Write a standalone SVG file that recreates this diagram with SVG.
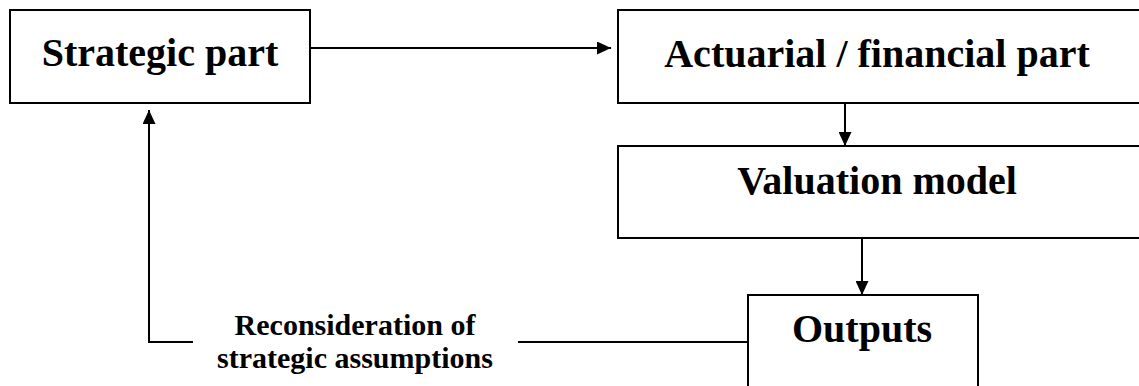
<svg xmlns="http://www.w3.org/2000/svg" width="1139" height="386" viewBox="0 0 1139 386">
  <style>
    .box { fill: #ffffff; stroke: #000000; stroke-width: 2; }
    .title { font-family: "Liberation Serif", "Times New Roman", serif; font-weight: bold; font-size: 40px; fill: #000000; text-anchor: middle; }
    .label { font-family: "Liberation Serif", "Times New Roman", serif; font-weight: bold; font-size: 30px; fill: #000000; text-anchor: middle; }
    .wire { fill: none; stroke: #000000; stroke-width: 2; }
  </style>
  <defs>
    <marker id="arrow" viewBox="0 0 14 13" refX="14" refY="6.5" markerWidth="14" markerHeight="13" markerUnits="userSpaceOnUse" orient="auto">
      <path d="M0,0 L14,6.5 L0,13 Z" fill="#000000"/>
    </marker>
  </defs>
  <rect width="1139" height="386" fill="#ffffff"/>

  <!-- boxes -->
  <g id="strategic-part">
    <rect class="box" x="10" y="10" width="300" height="93"/>
    <text class="title" x="160" y="66">Strategic part</text>
  </g>

  <g id="actuarial-financial-part">
    <rect class="box" x="618" y="10" width="540" height="93"/>
    <text class="title" x="877" y="67">Actuarial / financial part</text>
  </g>

  <g id="valuation-model">
    <rect class="box" x="618" y="146" width="540" height="92"/>
    <text class="title" x="877" y="194">Valuation model</text>
  </g>

  <g id="outputs">
    <rect class="box" x="748" y="295" width="230" height="120"/>
    <text class="title" x="862" y="342">Outputs</text>
  </g>

  <!-- arrows and the feedback loop with its label -->
  <g id="connectors">
    <line class="wire" x1="310" y1="48" x2="611" y2="48" marker-end="url(#arrow)"/>
    <line class="wire" x1="845" y1="103" x2="845" y2="146" marker-end="url(#arrow)"/>
    <line class="wire" x1="862" y1="238" x2="862" y2="295" marker-end="url(#arrow)"/>
    <line class="wire" x1="748" y1="342" x2="518" y2="342"/>
    <polyline class="wire" points="193,342 149,342 149,110" marker-end="url(#arrow)"/>
    <text class="label" x="355" y="335">Reconsideration of</text>
    <text class="label" x="355" y="368">strategic assumptions</text>
  </g>
</svg>
